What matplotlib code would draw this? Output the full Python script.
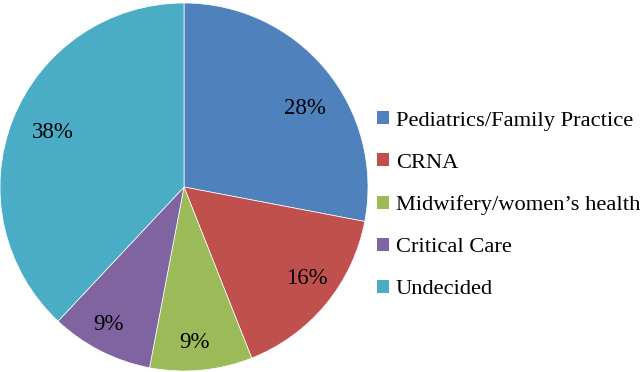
import matplotlib
matplotlib.use("Agg")
import matplotlib.pyplot as plt
from matplotlib.patches import Patch

categories = ["Pediatrics/Family Practice", "CRNA", "Midwifery/women\u2019s health", "Critical Care", "Undecided"]
values = [28, 16, 9, 9, 38]
colors = ["#4F81BD", "#C0504D", "#9BBB59", "#8064A2", "#4BACC6"]
# label placement (pixel centres as in the reference layout)
label_px = [(305, 108), (307, 278), (194, 342), (108, 325), (53, 133)]

plt.rcParams['font.family'] = ['Liberation Serif', 'DejaVu Serif']

fig = plt.figure(figsize=(6.4, 3.72), dpi=100)
W, H = 640, 372
cx, cy, r = 184, 187, 184
ax = fig.add_axes([(cx - r) / W, (H - cy - r) / H, 2 * r / W, 2 * r / H])
wedges, texts, autotexts = ax.pie(values, colors=colors, startangle=90, counterclock=False,
                                  autopct=lambda p: f"{p:.0f}%", pctdistance=0.8,
                                  radius=1.0, wedgeprops=dict(linewidth=0.5, edgecolor="white"),
                                  textprops=dict(fontsize=16.5, color="black"))
for t, (px, py) in zip(autotexts, label_px):
    t.set_position(((px - cx) / r, (cy - py) / r))
ax.set_xlim(-1, 1)
ax.set_ylim(-1, 1)
ax.set_aspect("equal")
ax.axis("off")

handles = [Patch(facecolor=c, edgecolor="none") for c in colors]
fig.legend(handles, categories, loc="upper left", bbox_to_anchor=(377 / W, 1 - 111 / H),
           frameon=False, fontsize=16.2, handlelength=0.53, handleheight=0.53,
           handletextpad=0.3, labelspacing=1.0, borderaxespad=0, borderpad=0)

fig.savefig("out.png", dpi=100)
